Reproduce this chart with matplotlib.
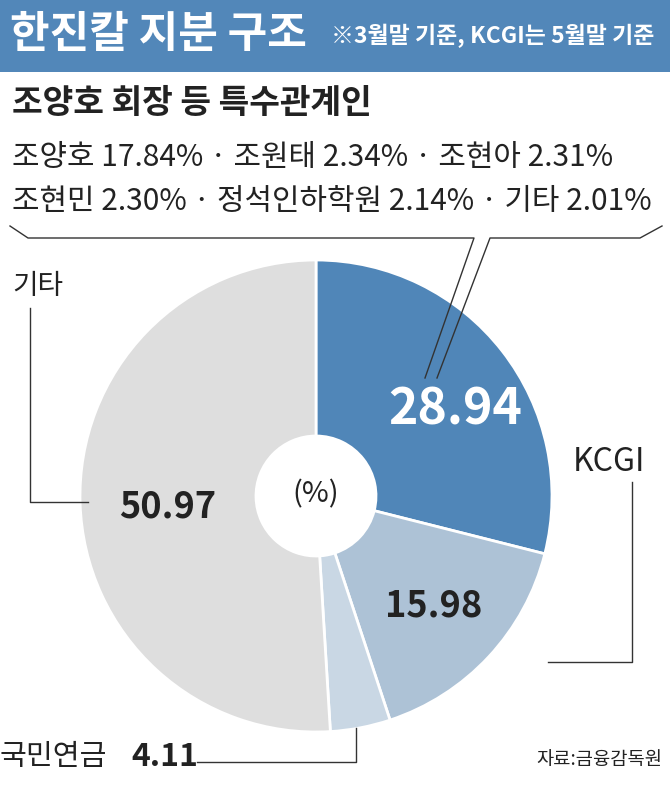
import matplotlib
matplotlib.use("Agg")
import matplotlib.pyplot as plt
from matplotlib import font_manager

names = {f.name for f in font_manager.fontManager.ttflist}
cjk = [n for n in ["Noto Sans CJK KR", "Noto Sans CJK JP", "Noto Sans CJK SC"] if n in names]
plt.rcParams["font.family"] = cjk + ["DejaVu Sans"]

# data
labels = ["조양호 회장 등 특수관계인", "KCGI", "국민연금", "기타"]
values = [28.94, 15.98, 4.11, 50.97]
colors = ["#5086b8", "#adc2d6", "#c9d7e4", "#dedede"]
detail_line1 = "조양호 17.84% · 조원태 2.34% · 조현아 2.31%"
detail_line2 = "조현민 2.30% · 정석인하학원 2.14% · 기타 2.01%"

W, H = 670, 785
fig = plt.figure(figsize=(6.7, 7.85), dpi=100)
ax = fig.add_axes([0, 0, 1, 1])

def Y(py):
    return H - py

# donut
cx, cy, r = 316, Y(496), 236
ax.pie(values, colors=colors, startangle=90, counterclock=False,
       center=(cx, cy), radius=r, frame=True,
       wedgeprops=dict(width=r - 60, edgecolor="white", linewidth=2))
ax.set_xlim(0, W)
ax.set_ylim(0, H)
ax.set_aspect("equal")
ax.axis("off")

ink = "#222222"
# header
ax.add_patch(plt.Rectangle((0, Y(72)), W, 72, color="#5287b9", lw=0))
ax.text(10, Y(34), "한진칼 지분 구조", color="white", fontsize=31, fontweight="bold",
        va="center", ha="left")
ax.text(331, Y(36), "※3월말 기준, KCGI는 5월말 기준", color="white", fontsize=16.5,
        fontweight="bold", va="center", ha="left")

# text block
ax.text(12, Y(104), labels[0], fontsize=24, fontweight="bold",
        va="center", ha="left", color=ink)
ax.text(12, Y(157), detail_line1, fontsize=21.5, va="center", ha="left", color=ink)
ax.text(12, Y(202), detail_line2, fontsize=21.5, va="center", ha="left", color=ink)

# bracket with pointer
lc = "#333333"
ax.plot([10, 28, 474, 425], [Y(226), Y(238), Y(238), Y(378)], color=lc, lw=1)
ax.plot([437, 490, 640, 662], [Y(378), Y(238), Y(238), Y(226)], color=lc, lw=1)

ax.text(cx, Y(494), "(%)", fontsize=21, ha="center", va="center", color=ink)
ax.text(455, Y(410), f"{values[0]:.2f}", fontsize=36, fontweight="bold",
        color="white", ha="center", va="center")
ax.text(434, Y(606), f"{values[1]:.2f}", fontsize=26, fontweight="bold",
        color=ink, ha="center", va="center")
ax.text(168, Y(507), f"{values[3]:.2f}", fontsize=26, fontweight="bold",
        color=ink, ha="center", va="center")

# KCGI label
ax.text(573, Y(462), labels[1], fontsize=23, ha="left", va="center", color=ink)
ax.plot([632, 632, 548], [Y(482), Y(662), Y(662)], color=lc, lw=1)

# 기타 label
ax.text(12, Y(286), labels[3], fontsize=20, ha="left", va="center", color=ink)
ax.plot([30, 30, 88], [Y(308), Y(502), Y(502)], color=lc, lw=1)

# 국민연금 label
ax.text(0, Y(757), labels[2], fontsize=21, ha="left", va="center", color=ink)
ax.text(131, Y(757), f"{values[2]:.2f}", fontsize=23, fontweight="bold",
        ha="left", va="center", color=ink)
ax.plot([197, 356, 356], [Y(762), Y(762), Y(728)], color=lc, lw=1)

# source
ax.text(662, Y(760), "자료:금융감독원", fontsize=13.5, ha="right", va="center",
        color=ink)

fig.savefig("out.png", dpi=100)
